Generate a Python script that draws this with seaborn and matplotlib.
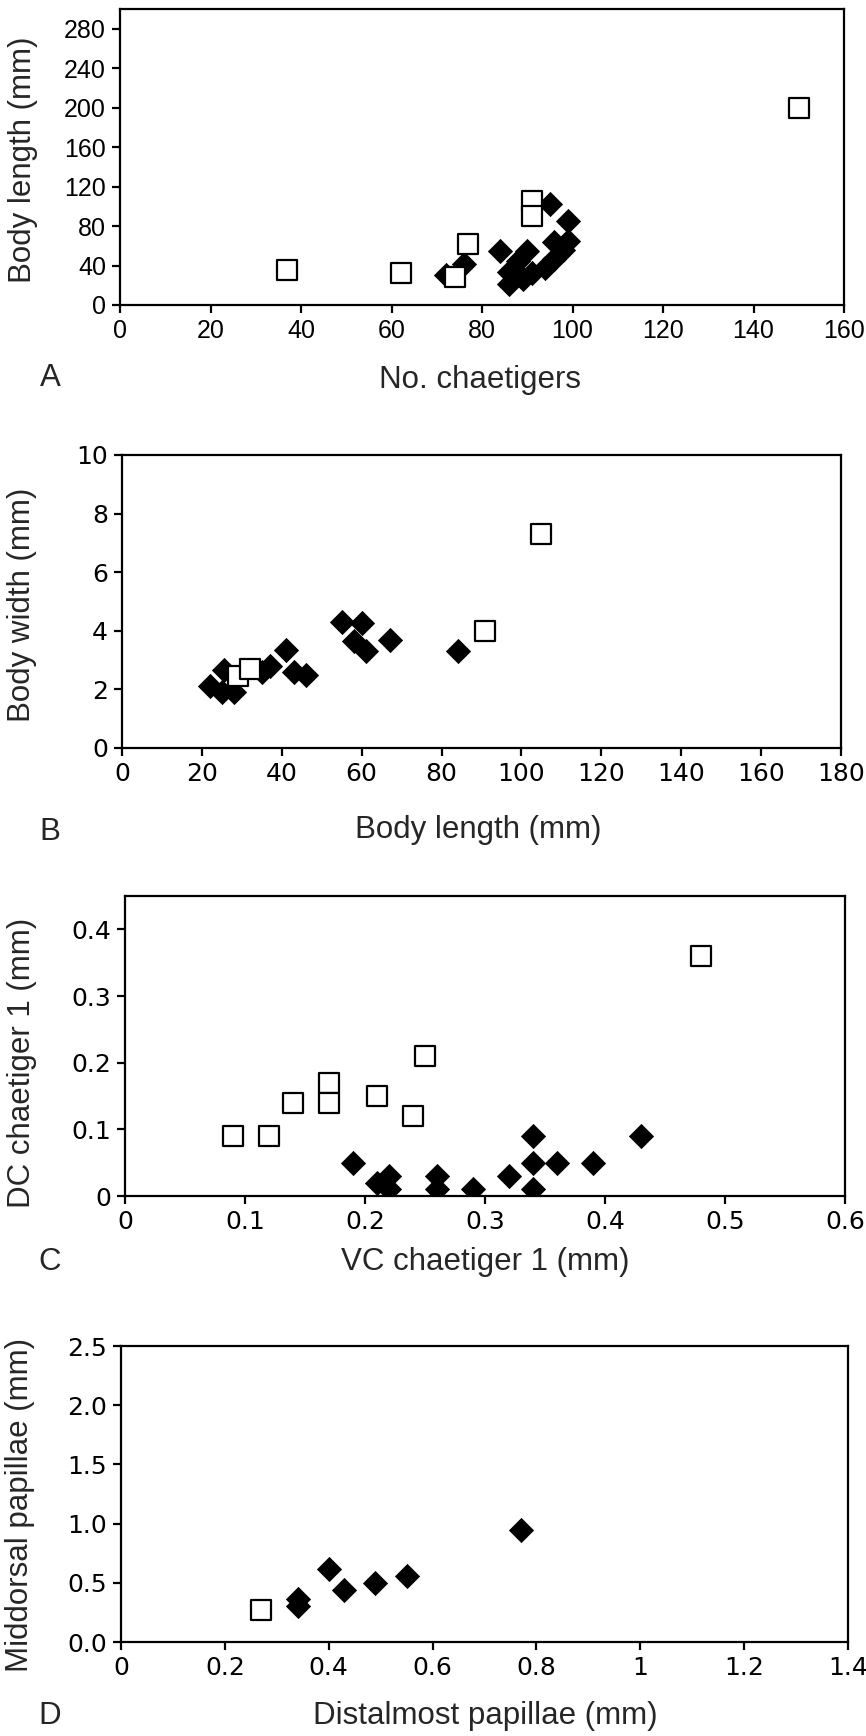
import matplotlib
matplotlib.use("Agg")
import matplotlib.pyplot as plt
import seaborn as sns
from matplotlib.ticker import FuncFormatter

# panel A: no. chaetigers vs body length
a_sq_x = [37, 62, 74, 77, 91, 91, 150]
a_sq_y = [35, 32, 28, 62, 105, 90, 200]
a_di_x = [72, 76, 84, 90, 95, 99, 96, 99, 98, 96, 94, 91, 89, 86, 86, 88]
a_di_y = [30, 42, 55, 55, 102, 85, 64, 65, 56, 47, 38, 32, 26, 21, 33, 45]

# panel B: body length vs body width
b_di_x = [22, 25, 25.5, 28, 35, 37, 41, 43, 46, 55, 60, 58, 61, 67, 84]
b_di_y = [2.1, 1.9, 2.65, 1.9, 2.6, 2.8, 3.35, 2.6, 2.5, 4.3, 4.25, 3.65, 3.3, 3.7, 3.3]
b_sq_x = [29, 32, 91, 105]
b_sq_y = [2.45, 2.7, 4.0, 7.3]

# panel C: VC vs DC chaetiger 1
c_sq_x = [0.09, 0.12, 0.14, 0.17, 0.17, 0.21, 0.24, 0.25, 0.48]
c_sq_y = [0.09, 0.09, 0.14, 0.17, 0.14, 0.15, 0.12, 0.21, 0.36]
c_di_x = [0.19, 0.21, 0.22, 0.22, 0.26, 0.26, 0.29, 0.32, 0.34, 0.34, 0.34, 0.36, 0.39, 0.43]
c_di_y = [0.05, 0.02, 0.03, 0.01, 0.03, 0.01, 0.01, 0.03, 0.09, 0.05, 0.01, 0.05, 0.05, 0.09]

# panel D: distalmost vs middorsal papillae
d_sq_x = [0.27]
d_sq_y = [0.27]
d_di_x = [0.34, 0.34, 0.40, 0.43, 0.49, 0.55, 0.77]
d_di_y = [0.36, 0.30, 0.62, 0.44, 0.50, 0.56, 0.95]

sns.set_style("ticks")
plt.rcParams['font.family'] = ['DejaVu Sans']

W, H = 866, 1736
fig = plt.figure(figsize=(W / 100, H / 100), dpi=100)

ARIAL = "Liberation Sans"
VERD = "DejaVu Sans"
LAB = 22.5


def box(l, t, r, b):
    return [l / W, 1 - b / H, (r - l) / W, (b - t) / H]


def style(ax, xlim, ylim, xt, yt, tickfont, ticksize):
    ax.set_xlim(*xlim)
    ax.set_ylim(*ylim)
    ax.set_xticks(xt)
    ax.set_yticks(yt)
    fmt = FuncFormatter(lambda v, p: f"{v:g}")
    ax.xaxis.set_major_formatter(fmt)
    for s in ax.spines.values():
        s.set_visible(True)
        s.set_linewidth(1.6)
        s.set_color("black")
    ax.tick_params(direction="out", length=6, width=1.6, colors="black", pad=4)
    for lab in ax.get_xticklabels() + ax.get_yticklabels():
        lab.set_fontfamily(tickfont)
        lab.set_fontsize(ticksize)
    ax.set_xlabel("")
    ax.set_ylabel("")


def points(ax, dx, dy, sx, sy):
    sns.scatterplot(x=dx, y=dy, ax=ax, marker="D", s=150, color="black",
                    edgecolor="black", linewidth=0.6, zorder=3, legend=False)
    sns.scatterplot(x=sx, y=sy, ax=ax, marker="s", s=200, color="white",
                    edgecolor="black", linewidth=1.6, zorder=4, legend=False)


def label(x, y, txt, size=LAB, rot=0):
    fig.text(x / W, 1 - y / H, txt, fontfamily=ARIAL, fontsize=size,
             ha="center", va="center", rotation=rot)


# A
ax = fig.add_axes(box(120, 9, 844, 305))
points(ax, a_di_x, a_di_y, a_sq_x, a_sq_y)
style(ax, (0, 160), (0, 300), range(0, 161, 20), range(0, 281, 40), ARIAL, 18)
label(23, 160, "Body length (mm)", rot=90)
label(480, 380, "No. chaetigers")
label(50, 378, "A")

# B
ax = fig.add_axes(box(122, 455, 841, 748))
points(ax, b_di_x, b_di_y, b_sq_x, b_sq_y)
style(ax, (0, 180), (0, 10), range(0, 181, 20), range(0, 11, 2), VERD, 18)
label(22, 605, "Body width (mm)", rot=90)
label(478, 830, "Body length (mm)")
label(50, 832, "B")

# C
ax = fig.add_axes(box(125, 896, 845, 1196))
points(ax, c_di_x, c_di_y, c_sq_x, c_sq_y)
style(ax, (0, 0.6), (0, 0.45), [0, 0.1, 0.2, 0.3, 0.4, 0.5, 0.6],
      [0, 0.1, 0.2, 0.3, 0.4], VERD, 18)
ax.yaxis.set_major_formatter(FuncFormatter(lambda v, p: f"{v:g}"))
label(22, 1063, "DC chaetiger 1 (mm)", rot=90)
label(485, 1262, "VC chaetiger 1 (mm)")
label(50, 1262, "C")

# D
ax = fig.add_axes(box(121, 1346, 848, 1642))
points(ax, d_di_x, d_di_y, d_sq_x, d_sq_y)
style(ax, (0, 1.4), (0, 2.5), [0, 0.2, 0.4, 0.6, 0.8, 1.0, 1.2, 1.4],
      [0, 0.5, 1.0, 1.5, 2.0, 2.5], VERD, 18)
ax.yaxis.set_major_formatter(FuncFormatter(lambda v, p: f"{v:.1f}"))
label(20, 1505, "Middorsal papillae (mm)", rot=90)
label(485, 1716, "Distalmost papillae (mm)")
label(50, 1716, "D")

fig.savefig("out.png", dpi=100)
